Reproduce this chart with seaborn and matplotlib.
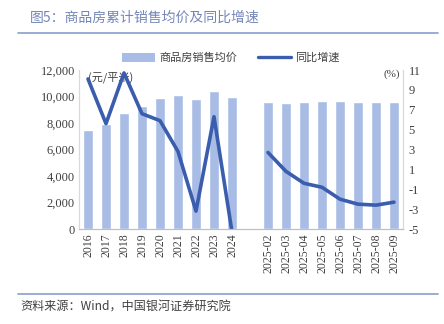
import numpy as np
import pandas as pd
import matplotlib
matplotlib.use("Agg")
import matplotlib.pyplot as plt
from matplotlib.lines import Line2D
from matplotlib.patches import Patch
import seaborn as sns

# ---- data ----
years = ["2016", "2017", "2018", "2019", "2020", "2021", "2022", "2023", "2024"]
months = ["2025-02", "2025-03", "2025-04", "2025-05", "2025-06", "2025-07", "2025-08", "2025-09"]
price_years = [7476, 7892, 8737, 9310, 9860, 10139, 9813, 10437, 9954]
price_months = [9565, 9514, 9565, 9666, 9666, 9615, 9615, 9565]
yoy_years = [10.1, 5.6, 10.7, 6.6, 5.9, 2.8, -3.2, 6.3, -5.3]
yoy_months = [2.7, 0.8, -0.4, -0.8, -2.0, -2.5, -2.6, -2.3]

bar_name = "商品房销售均价"
line_name = "同比增速"
title = "图5：商品房累计销售均价及同比增速"
source = "资料来源：Wind，中国银河证券研究院"

gap = " "
order = years + [gap] + months

sns.set_theme(style="white")
cjk = ["Noto Sans CJK SC", "DejaVu Sans"]
serif = ["Liberation Serif", "Noto Sans CJK SC", "DejaVu Sans"]
plt.rcParams["font.family"] = cjk

bar_color = "#A9BCE5"
line_color = "#3A5DAE"

fig = plt.figure(figsize=(4.44, 3.24), dpi=100)
ax = fig.add_axes([79 / 444, 1 - 229 / 324, 324 / 444, 159 / 324])

df_bar = pd.DataFrame({"cat": years + months, "price": price_years + price_months})
sns.barplot(data=df_bar, x="cat", y="price", order=order, color=bar_color,
            width=0.55, saturation=1, ax=ax)

ax.set_ylim(0, 12000)
ax.set_yticks(np.arange(0, 12001, 2000))
ax.set_yticklabels([f"{v:,}" for v in range(0, 12001, 2000)], family=serif,
                   fontsize=9, color="#404040")
ax.set_xlim(-0.5, len(order) - 0.5)
ax.set_xticks(range(len(order)))
ax.set_xticklabels(order, rotation=90, family=serif, fontsize=8.5, color="#404040")
ax.set_xlabel("")
ax.set_ylabel("")
ax.tick_params(axis="both", length=0, pad=3)

ax2 = ax.twinx()
pos_years = [order.index(c) for c in years]
pos_months = [order.index(c) for c in months]
sns.lineplot(x=pos_years, y=yoy_years, ax=ax2, color=line_color, linewidth=2.6,
             sort=False)
sns.lineplot(x=pos_months, y=yoy_months, ax=ax2, color=line_color, linewidth=2.6,
             sort=False)
ax2.set_ylim(-5, 11)
ax2.set_yticks(np.arange(-5, 12, 2))
ax2.set_yticklabels([str(v) for v in range(-5, 12, 2)], family=serif,
                    fontsize=9, color="#404040")
ax2.tick_params(axis="y", length=0, pad=4)
ax2.set_ylabel("")
ax2.grid(False)
ax.set_xlim(-0.5, len(order) - 0.5)

for a in (ax, ax2):
    a.spines["top"].set_visible(False)
    a.spines["left"].set_color("#D9D9D9")
    a.spines["right"].set_color("#D9D9D9")
    a.spines["bottom"].set_color("#BFBFBF")
    for s in ("left", "right", "bottom"):
        a.spines[s].set_linewidth(0.8)

ax.text(0.028, 0.955, "(元/平米)", transform=ax.transAxes, fontsize=8,
        color="#404040", ha="left", va="center", family=cjk)
ax2.text(0.99, 0.975, "(%)", transform=ax.transAxes, fontsize=8,
         color="#404040", ha="right", va="center", family=serif)

handles = [Patch(facecolor=bar_color, edgecolor="none"),
           Line2D([0], [0], color=line_color, linewidth=2.4)]
fig.legend(handles, [bar_name, line_name], loc="center", ncol=2,
           bbox_to_anchor=(0.52, 1 - 58 / 324), frameon=False,
           prop={"family": cjk, "size": 8}, labelcolor="#404040",
           handlelength=3.0, handletextpad=0.4, columnspacing=1.8,
           handleheight=0.8)

fig.text(30 / 444, 1 - 18 / 324, title, fontsize=10, color="#7587B8",
         ha="left", va="center", family=cjk)
fig.add_artist(Line2D([18 / 444, 438 / 444], [1 - 33 / 324, 1 - 33 / 324],
                      color="#8A9DCB", linewidth=1.2, transform=fig.transFigure))
fig.add_artist(Line2D([18 / 444, 438 / 444], [1 - 294 / 324, 1 - 294 / 324],
                      color="#8A9DCB", linewidth=1.2, transform=fig.transFigure))
fig.text(20 / 444, 1 - 307 / 324, source, fontsize=8.7, color="#404040",
         ha="left", va="center", family=cjk, style="italic")

fig.savefig("out.png", dpi=100)
